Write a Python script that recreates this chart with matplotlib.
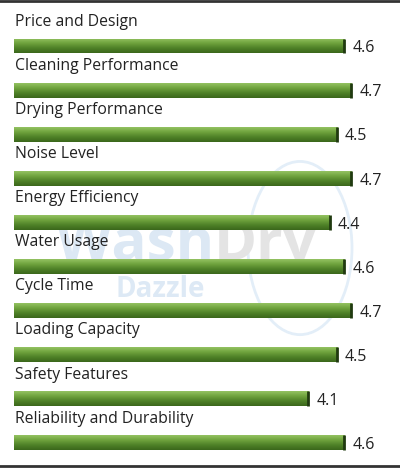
import matplotlib.pyplot as plt
import numpy as np
from matplotlib.patches import Ellipse

# dati del grafico
categories = ["Price and Design", "Cleaning Performance", "Drying Performance",
              "Noise Level", "Energy Efficiency", "Water Usage", "Cycle Time",
              "Loading Capacity", "Safety Features", "Reliability and Durability"]
scores = [4.6, 4.7, 4.5, 4.7, 4.4, 4.6, 4.7, 4.5, 4.1, 4.6]

plt.rcParams["font.family"] = ["Open Sans", "DejaVu Sans"]

fig = plt.figure(figsize=(4, 4.68), dpi=100)
ax = fig.add_axes([0.035, 0, 0.965, 1])
ax.set_xlim(0, 386 / 71.8)
ax.set_ylim(468 / 44.1 - 46 / 44.1, -46 / 44.1)
ax.axis("off")

# filigrana sbiadita (logo a goccia), dietro a tutto
tf = fig.transFigure
ax.add_patch(Ellipse((0.75, 0.47), 0.26, 0.37, transform=tf,
                     fill=False, ec="#e3eef8", lw=2, zorder=0))
ax.text(0.535, 0.445, "Wash", fontsize=42, fontweight="bold", color="#dce8f4",
        ha="right", transform=tf, zorder=1)
ax.text(0.535, 0.445, "Dry", fontsize=42, fontweight="bold", color="#e4e4e4",
        ha="left", transform=tf, zorder=1)
ax.text(0.29, 0.365, "Dazzle", fontsize=20, fontweight="bold", color="#dde9f5",
        transform=tf, zorder=1)

# sfumatura verde delle barre
grad = np.linspace(0, 1, 64).reshape(-1, 1)
cmap = plt.matplotlib.colors.LinearSegmentedColormap.from_list(
    "bar", ["#94c262", "#6fa33d", "#4f8128", "#3b671b"])
h = 0.34
for i, (name, val) in enumerate(zip(categories, scores)):
    bars = ax.barh(i, val, height=h, color="#5a8c2e", edgecolor="none", zorder=2)
    im = ax.imshow(grad, cmap=cmap, aspect="auto", extent=(0, val, i + h / 2, i - h / 2), zorder=3)
    im.set_clip_path(bars[0])
    # bordo scuro sull'estremità destra
    ax.plot([val, val], [i - h / 2, i + h / 2], color="#203a10", lw=2, zorder=4, solid_capstyle="butt")
    ax.text(val + 0.11, i + 0.05, f"{val}", va="center", ha="left", fontsize=11.5, color="#222222", zorder=5)
    ax.text(0.01, i - 0.55, name, va="center", ha="left", fontsize=11.3, color="#222222", zorder=5)

# cornice sopra e sotto
fig.add_artist(plt.Line2D([0, 1], [0.998, 0.998], color="#333333", lw=2, transform=tf))
fig.add_artist(plt.Line2D([0, 1], [0.004, 0.004], color="#333333", lw=2, transform=tf))

fig.savefig("out.png", dpi=100)
